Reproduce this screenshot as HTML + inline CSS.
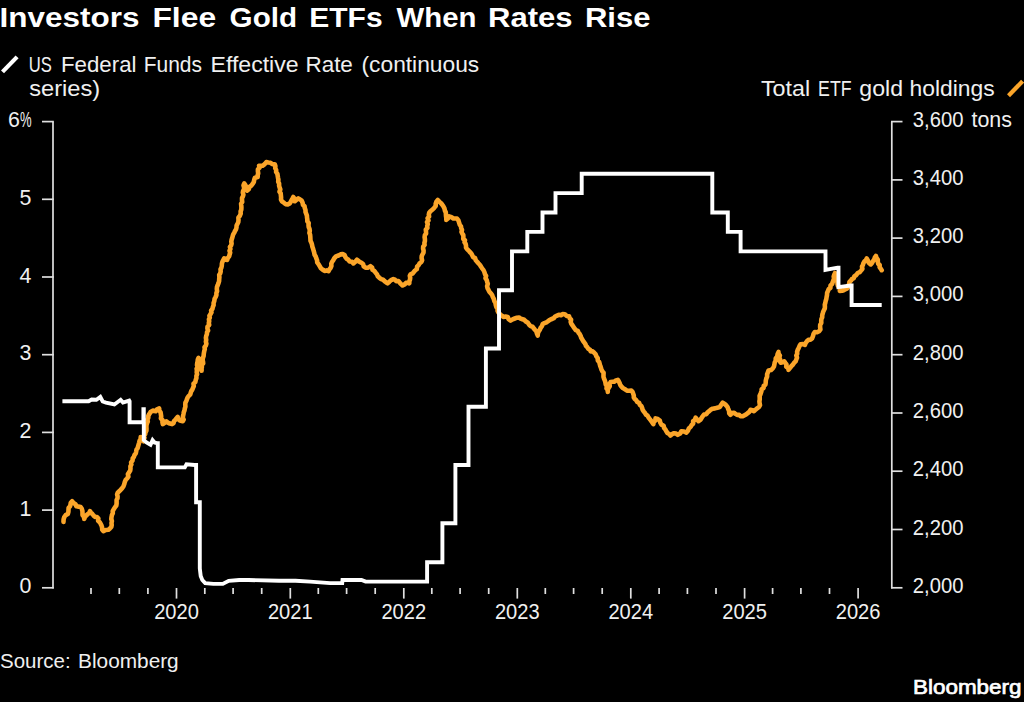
<!DOCTYPE html>
<html><head><meta charset="utf-8"><style>
html,body{margin:0;padding:0;background:#000;width:1024px;height:702px;overflow:hidden}
svg{position:absolute;left:0;top:0;display:block}
text{font-family:"Liberation Sans",sans-serif;fill:#f0f0f0}
</style></head><body>
<svg width="1024" height="702" viewBox="0 0 1024 702">
<text x="-0.4" y="27.3" style="font-weight:bold;font-size:28px;fill:#fff" textLength="139.8" lengthAdjust="spacingAndGlyphs">Investors</text>
<text x="152.4" y="27.3" style="font-weight:bold;font-size:28px;fill:#fff" textLength="63.7" lengthAdjust="spacingAndGlyphs">Flee</text>
<text x="229.6" y="27.3" style="font-weight:bold;font-size:28px;fill:#fff" textLength="67.5" lengthAdjust="spacingAndGlyphs">Gold</text>
<text x="309.2" y="27.3" style="font-weight:bold;font-size:28px;fill:#fff" textLength="73.4" lengthAdjust="spacingAndGlyphs">ETFs</text>
<text x="396.5" y="27.3" style="font-weight:bold;font-size:28px;fill:#fff" textLength="79.9" lengthAdjust="spacingAndGlyphs">When</text>
<text x="488.0" y="27.3" style="font-weight:bold;font-size:28px;fill:#fff" textLength="84.5" lengthAdjust="spacingAndGlyphs">Rates</text>
<text x="584.9" y="27.3" style="font-weight:bold;font-size:28px;fill:#fff" textLength="65.6" lengthAdjust="spacingAndGlyphs">Rise</text>
<line x1="2.5" y1="71.9" x2="17.1" y2="56.9" stroke="#fff" stroke-width="4.2"/>
<text x="28.7" y="71.5" style="font-size:21.6px" textLength="23.1" lengthAdjust="spacingAndGlyphs">US</text>
<text x="61.0" y="71.5" style="font-size:21.6px" textLength="75.5" lengthAdjust="spacingAndGlyphs">Federal</text>
<text x="143.7" y="71.5" style="font-size:21.6px" textLength="58.3" lengthAdjust="spacingAndGlyphs">Funds</text>
<text x="210.5" y="71.5" style="font-size:21.6px" textLength="88.1" lengthAdjust="spacingAndGlyphs">Effective</text>
<text x="305.4" y="71.5" style="font-size:21.6px" textLength="47.5" lengthAdjust="spacingAndGlyphs">Rate</text>
<text x="361.5" y="71.5" style="font-size:21.6px" textLength="117.7" lengthAdjust="spacingAndGlyphs">(continuous</text>
<text x="29.2" y="95.8" style="font-size:21.6px" textLength="71" lengthAdjust="spacingAndGlyphs">series)</text>
<text x="761.0" y="95.8" style="font-size:21.6px" textLength="49.1" lengthAdjust="spacingAndGlyphs">Total</text>
<text x="818.1" y="95.8" style="font-size:21.6px" textLength="33.5" lengthAdjust="spacingAndGlyphs">ETF</text>
<text x="859.3" y="95.8" style="font-size:21.6px" textLength="43.7" lengthAdjust="spacingAndGlyphs">gold</text>
<text x="909.5" y="95.8" style="font-size:21.6px" textLength="85.2" lengthAdjust="spacingAndGlyphs">holdings</text>
<line x1="1008.5" y1="95.8" x2="1022.6" y2="81.1" stroke="#fba52a" stroke-width="4.2"/>
<g stroke="#e0e0e0" stroke-width="1.7">
<line x1="53" y1="121.6" x2="53" y2="588.6"/>
<line x1="891.8" y1="121.6" x2="891.8" y2="588.6"/>
<line x1="42" y1="587.8" x2="53.8" y2="587.8"/>
<line x1="42" y1="510.1" x2="53.8" y2="510.1"/>
<line x1="42" y1="432.4" x2="53.8" y2="432.4"/>
<line x1="42" y1="354.7" x2="53.8" y2="354.7"/>
<line x1="42" y1="277.0" x2="53.8" y2="277.0"/>
<line x1="42" y1="199.3" x2="53.8" y2="199.3"/>
<line x1="42" y1="121.6" x2="53.8" y2="121.6"/>
<line x1="891" y1="587.8" x2="902.5" y2="587.8"/>
<line x1="891" y1="529.5" x2="902.5" y2="529.5"/>
<line x1="891" y1="471.2" x2="902.5" y2="471.2"/>
<line x1="891" y1="413.0" x2="902.5" y2="413.0"/>
<line x1="891" y1="354.7" x2="902.5" y2="354.7"/>
<line x1="891" y1="296.4" x2="902.5" y2="296.4"/>
<line x1="891" y1="238.1" x2="902.5" y2="238.1"/>
<line x1="891" y1="179.9" x2="902.5" y2="179.9"/>
<line x1="891" y1="121.6" x2="902.5" y2="121.6"/>
<line x1="91.0" y1="588" x2="91.0" y2="594"/>
<line x1="119.3" y1="588" x2="119.3" y2="594"/>
<line x1="147.9" y1="588" x2="147.9" y2="594"/>
<line x1="176.5" y1="588" x2="176.5" y2="598.6"/>
<line x1="204.8" y1="588" x2="204.8" y2="594"/>
<line x1="233.1" y1="588" x2="233.1" y2="594"/>
<line x1="261.7" y1="588" x2="261.7" y2="594"/>
<line x1="290.3" y1="588" x2="290.3" y2="598.6"/>
<line x1="318.3" y1="588" x2="318.3" y2="594"/>
<line x1="346.6" y1="588" x2="346.6" y2="594"/>
<line x1="375.2" y1="588" x2="375.2" y2="594"/>
<line x1="403.8" y1="588" x2="403.8" y2="598.6"/>
<line x1="431.8" y1="588" x2="431.8" y2="594"/>
<line x1="460.1" y1="588" x2="460.1" y2="594"/>
<line x1="488.7" y1="588" x2="488.7" y2="594"/>
<line x1="517.3" y1="588" x2="517.3" y2="598.6"/>
<line x1="545.3" y1="588" x2="545.3" y2="594"/>
<line x1="573.6" y1="588" x2="573.6" y2="594"/>
<line x1="602.2" y1="588" x2="602.2" y2="594"/>
<line x1="630.8" y1="588" x2="630.8" y2="598.6"/>
<line x1="659.1" y1="588" x2="659.1" y2="594"/>
<line x1="687.4" y1="588" x2="687.4" y2="594"/>
<line x1="716.0" y1="588" x2="716.0" y2="594"/>
<line x1="744.6" y1="588" x2="744.6" y2="598.6"/>
<line x1="772.6" y1="588" x2="772.6" y2="594"/>
<line x1="800.9" y1="588" x2="800.9" y2="594"/>
<line x1="829.5" y1="588" x2="829.5" y2="594"/>
<line x1="858.1" y1="588" x2="858.1" y2="598.6"/>
</g>
<g style="font-size:21.4px" text-anchor="end">
<text x="31.5" y="593.4">0</text>
<text x="31.5" y="515.7">1</text>
<text x="31.5" y="438.0">2</text>
<text x="31.5" y="360.3">3</text>
<text x="31.5" y="282.6">4</text>
<text x="31.5" y="204.9">5</text>
<text x="19.9" y="127.2">6</text><text x="31.6" y="127.2" textLength="11.6" lengthAdjust="spacingAndGlyphs">%</text>
</g>
<g style="font-size:21.4px">
<text x="912.8" y="592.8" textLength="50.6" lengthAdjust="spacingAndGlyphs">2,000</text>
<text x="912.8" y="534.5" textLength="50.6" lengthAdjust="spacingAndGlyphs">2,200</text>
<text x="912.8" y="476.2" textLength="50.6" lengthAdjust="spacingAndGlyphs">2,400</text>
<text x="912.8" y="418.0" textLength="50.6" lengthAdjust="spacingAndGlyphs">2,600</text>
<text x="912.8" y="359.7" textLength="50.6" lengthAdjust="spacingAndGlyphs">2,800</text>
<text x="912.8" y="301.4" textLength="50.6" lengthAdjust="spacingAndGlyphs">3,000</text>
<text x="912.8" y="243.1" textLength="50.6" lengthAdjust="spacingAndGlyphs">3,200</text>
<text x="912.8" y="184.9" textLength="50.6" lengthAdjust="spacingAndGlyphs">3,400</text>
<text x="912.8" y="126.6" textLength="50.6" lengthAdjust="spacingAndGlyphs">3,600</text>
<text x="971.5" y="126.6">tons</text>
</g>
<g style="font-size:21.4px" text-anchor="middle">
<text x="176.5" y="619.3" textLength="44.7" lengthAdjust="spacingAndGlyphs">2020</text>
<text x="290.3" y="619.3" textLength="44.7" lengthAdjust="spacingAndGlyphs">2021</text>
<text x="403.8" y="619.3" textLength="44.7" lengthAdjust="spacingAndGlyphs">2022</text>
<text x="517.3" y="619.3" textLength="44.7" lengthAdjust="spacingAndGlyphs">2023</text>
<text x="630.8" y="619.3" textLength="44.7" lengthAdjust="spacingAndGlyphs">2024</text>
<text x="744.6" y="619.3" textLength="44.7" lengthAdjust="spacingAndGlyphs">2025</text>
<text x="858.1" y="619.3" textLength="44.7" lengthAdjust="spacingAndGlyphs">2026</text>
</g>
<path d="M63.5,521.9 L63.6,519.4 L64.3,517.0 L65.7,515.1 L67.8,514.0 L68.4,511.9 L68.5,509.8 L68.6,507.8 L70.0,506.4 L70.5,504.6 L70.8,502.7 L72.1,501.3 L73.5,503.0 L75.5,504.2 L76.4,506.3 L78.5,506.6 L80.6,507.0 L81.8,508.8 L82.4,510.8 L82.5,513.0 L82.5,515.1 L84.1,516.8 L84.2,519.0 L84.9,517.0 L86.3,515.5 L87.6,514.2 L89.2,513.1 L89.9,511.2 L91.0,512.7 L92.4,514.0 L93.5,515.5 L95.0,516.9 L97.0,517.0 L98.4,518.5 L98.1,520.8 L99.7,522.2 L100.7,523.9 L101.5,525.6 L102.1,527.5 L102.2,529.6 L103.4,531.2 L105.8,530.0 L108.4,529.8 L109.9,528.5 L111.3,527.0 L111.7,525.0 L111.5,523.0 L111.9,521.1 L111.3,519.0 L111.5,517.1 L111.9,515.1 L112.8,513.2 L112.7,511.2 L113.8,509.2 L114.9,507.3 L116.3,505.5 L116.6,503.7 L116.6,501.8 L116.6,500.0 L117.5,498.2 L117.6,496.4 L117.1,494.5 L117.7,492.7 L119.2,491.3 L120.6,489.9 L122.0,488.4 L123.4,486.5 L124.2,484.3 L124.8,482.0 L125.6,480.1 L127.0,478.5 L128.4,476.7 L127.9,474.3 L129.0,472.5 L130.2,470.6 L130.5,468.5 L130.4,466.4 L131.4,464.5 L131.1,462.4 L132.5,460.6 L132.7,458.5 L133.9,456.9 L134.5,455.0 L135.8,453.4 L136.2,451.4 L136.5,449.6 L137.6,448.1 L138.1,446.3 L138.6,444.6 L139.1,442.8 L139.6,440.8 L140.7,439.1 L140.7,437.0 L141.5,439.5 L143.5,441.2 L143.8,439.4 L144.5,437.7 L143.9,435.7 L145.2,434.2 L145.5,432.4 L146.4,430.7 L146.5,428.9 L146.4,427.0 L146.5,425.1 L147.0,423.3 L147.8,421.6 L147.3,419.5 L148.3,417.8 L148.3,415.9 L149.2,414.2 L150.6,412.0 L152.8,410.6 L155.6,411.3 L157.0,409.4 L159.2,408.5 L159.3,410.5 L160.6,412.3 L160.9,414.3 L161.2,416.3 L160.9,418.4 L162.5,420.1 L162.4,422.1 L162.8,424.1 L164.6,422.8 L166.3,421.3 L167.9,422.7 L169.9,423.6 L172.0,424.1 L173.6,423.0 L174.0,421.1 L175.3,419.8 L176.4,418.3 L177.7,417.0 L178.3,419.1 L179.9,420.6 L182.7,421.3 L183.7,419.6 L182.8,417.6 L183.1,415.7 L183.5,413.9 L183.8,412.1 L184.5,410.3 L184.8,408.5 L185.4,406.6 L185.3,404.6 L185.4,402.6 L186.4,400.9 L187.0,399.0 L187.7,397.3 L188.8,395.9 L190.2,394.6 L190.7,392.8 L191.3,391.1 L192.3,389.6 L193.0,387.9 L193.8,386.0 L193.5,383.7 L195.3,382.1 L195.7,380.0 L196.4,378.1 L196.4,375.9 L197.1,374.2 L196.7,372.3 L196.9,370.5 L196.6,368.7 L197.7,367.0 L197.0,365.1 L197.2,363.3 L197.6,361.5 L197.8,359.7 L198.5,358.0 L199.3,359.9 L200.3,361.8 L200.2,364.0 L201.4,366.1 L201.6,368.4 L201.6,370.8 L201.3,368.9 L201.9,367.1 L201.6,365.2 L203.2,363.5 L203.0,361.6 L202.6,359.6 L203.0,357.8 L203.6,356.0 L203.8,353.7 L204.2,351.4 L204.8,349.2 L204.5,347.2 L205.9,345.5 L206.4,343.7 L205.9,341.7 L206.2,339.8 L205.9,337.9 L206.2,336.0 L206.9,334.2 L207.0,332.3 L208.1,330.6 L207.4,328.5 L207.5,326.6 L209.2,325.0 L208.8,323.0 L209.2,321.2 L208.9,319.3 L209.8,317.7 L209.4,315.7 L210.5,314.1 L211.5,312.4 L211.1,310.5 L212.4,309.0 L212.8,307.1 L213.6,305.2 L213.6,303.0 L214.3,301.0 L214.6,298.9 L215.6,297.0 L216.4,295.1 L216.4,293.0 L217.1,291.1 L216.8,289.0 L217.0,286.9 L217.8,285.0 L218.5,283.1 L219.1,281.1 L219.2,279.1 L219.4,277.1 L219.2,275.0 L220.2,273.3 L220.7,271.4 L220.5,269.3 L221.4,267.6 L221.8,265.7 L221.9,263.7 L222.4,261.9 L223.3,260.1 L224.2,258.4 L227.1,259.9 L227.8,257.9 L229.2,256.3 L229.6,254.5 L230.2,252.6 L229.5,250.7 L230.4,248.9 L229.9,247.0 L231.1,245.4 L231.6,243.6 L231.3,241.6 L231.6,239.8 L232.2,238.0 L232.7,236.2 L233.2,234.4 L234.2,232.8 L235.0,231.0 L236.0,229.3 L236.5,227.5 L236.6,225.5 L237.5,223.7 L238.3,222.0 L238.5,220.0 L238.4,217.7 L239.8,215.8 L240.7,213.7 L240.6,211.4 L241.3,209.6 L241.4,207.6 L241.3,205.7 L241.1,203.7 L242.2,202.0 L242.0,200.0 L242.0,198.1 L242.9,196.4 L243.4,194.6 L242.8,192.6 L243.1,190.8 L244.1,189.1 L244.0,187.2 L243.5,185.3 L244.2,183.5 L245.4,185.1 L246.1,186.9 L245.7,189.0 L247.0,190.6 L248.8,189.2 L249.5,186.9 L251.3,185.6 L252.6,183.9 L253.8,182.0 L254.2,179.8 L254.9,177.8 L257.7,177.1 L257.7,175.2 L258.2,173.3 L257.9,171.3 L257.9,169.4 L259.6,167.7 L259.1,165.7 L262.7,165.7 L264.7,164.1 L266.3,162.1 L268.4,162.5 L270.5,162.8 L272.4,164.1 L274.8,164.2 L275.4,166.1 L275.2,168.2 L276.2,170.0 L276.1,172.0 L277.4,173.8 L277.7,175.8 L278.0,177.7 L278.4,179.7 L278.2,181.7 L279.1,183.6 L279.1,185.6 L279.6,187.5 L280.3,189.4 L279.5,191.6 L280.7,193.4 L280.9,195.4 L281.1,197.4 L281.0,199.4 L281.9,201.3 L283.8,202.6 L285.5,204.1 L287.8,204.4 L289.8,203.4 L290.7,201.8 L291.6,200.2 L292.5,198.6 L293.3,197.0 L294.7,198.9 L294.8,201.3 L296.5,199.8 L298.3,198.4 L300.1,199.5 L301.7,200.7 L302.6,202.7 L302.9,204.7 L304.5,206.2 L304.8,208.2 L305.5,210.0 L305.5,211.9 L306.2,213.8 L306.9,215.6 L307.0,217.5 L307.3,219.4 L307.3,221.3 L308.7,223.0 L308.5,225.0 L308.7,227.0 L309.5,228.9 L309.8,230.8 L309.4,232.9 L310.1,234.8 L310.3,236.8 L310.4,238.8 L310.5,240.8 L311.4,242.7 L312.0,244.7 L312.4,246.7 L313.1,248.7 L313.6,250.7 L314.2,252.7 L314.6,254.7 L315.7,256.5 L316.3,258.4 L317.1,260.3 L317.2,262.4 L318.5,264.1 L319.7,266.2 L320.9,268.2 L322.8,269.8 L324.5,270.9 L326.7,270.4 L328.5,271.2 L329.4,269.4 L330.7,267.8 L331.4,265.9 L331.3,263.7 L332.1,261.8 L333.3,260.2 L334.2,258.4 L336.0,256.4 L338.5,255.5 L340.5,254.4 L342.7,254.1 L344.6,255.1 L345.4,257.1 L346.7,258.7 L348.4,259.8 L349.7,261.5 L352.0,261.8 L353.4,263.4 L355.4,261.8 L357.0,259.8 L359.0,261.4 L361.3,262.7 L363.1,264.0 L363.7,266.4 L365.5,267.7 L368.2,267.6 L370.5,266.2 L372.1,267.5 L372.5,269.8 L374.4,270.9 L375.5,272.6 L376.9,274.2 L377.8,276.3 L379.4,277.8 L381.2,279.1 L383.1,279.7 L384.5,281.1 L386.0,282.3 L387.6,283.3 L389.4,281.7 L391.1,280.1 L393.3,279.1 L395.0,279.7 L396.3,281.1 L398.4,281.1 L399.7,282.6 L401.1,284.1 L402.6,285.5 L404.5,284.5 L406.1,282.9 L408.3,282.6 L409.3,283.3 L409.3,281.4 L410.0,279.6 L410.2,277.8 L409.8,275.8 L410.7,274.1 L412.6,273.5 L413.8,272.0 L415.0,270.5 L416.8,269.2 L417.1,266.7 L418.6,265.2 L419.6,263.3 L421.4,262.0 L422.1,260.2 L421.6,258.1 L421.7,256.2 L422.5,254.3 L423.5,252.6 L423.6,250.6 L423.1,248.6 L423.2,246.7 L424.6,244.9 L424.4,242.9 L424.9,241.1 L424.9,239.1 L424.6,237.1 L424.9,235.2 L426.1,233.5 L426.0,231.6 L425.8,229.6 L427.4,227.9 L427.2,226.0 L427.8,224.1 L427.0,222.1 L428.5,220.4 L427.6,218.3 L429.1,216.6 L428.8,214.7 L429.2,212.8 L430.7,211.0 L432.6,209.5 L434.2,207.8 L435.7,206.1 L435.7,203.8 L436.4,201.7 L437.8,200.0 L439.5,201.8 L441.3,203.5 L442.5,205.1 L443.6,206.8 L444.5,208.6 L444.9,210.6 L445.8,212.4 L445.9,214.3 L446.0,216.1 L446.3,218.0 L446.3,219.9 L448.1,218.3 L449.2,216.3 L451.4,217.1 L453.4,218.5 L455.2,218.5 L457.0,218.5 L458.4,220.4 L459.1,222.7 L459.8,224.9 L461.0,226.4 L461.2,228.3 L462.0,229.9 L461.5,231.9 L462.3,233.6 L463.3,235.1 L463.4,237.0 L463.3,238.9 L465.0,240.3 L464.5,242.3 L465.6,243.9 L466.0,245.6 L466.0,247.5 L467.0,249.1 L468.5,250.4 L469.8,252.0 L471.2,253.4 L472.2,255.2 L473.1,257.1 L475.1,258.1 L475.7,260.2 L477.1,261.7 L478.4,263.3 L479.8,264.8 L481.0,266.6 L482.1,268.4 L483.5,270.1 L484.4,272.1 L485.0,274.2 L486.1,276.0 L485.5,278.2 L486.7,280.0 L487.2,281.9 L487.8,283.9 L487.1,286.1 L487.5,288.1 L488.5,289.9 L489.4,291.8 L490.9,293.3 L492.1,295.0 L492.8,297.0 L493.8,298.9 L494.3,301.0 L495.4,302.8 L495.8,305.0 L496.4,307.0 L497.6,308.6 L497.6,310.9 L498.5,312.6 L500.0,314.1 L501.7,315.6 L503.5,317.0 L505.6,316.6 L507.8,317.0 L508.6,319.2 L510.6,320.6 L512.6,319.4 L514.8,318.5 L517.0,317.7 L519.0,317.5 L520.6,318.6 L522.4,319.2 L524.2,319.8 L525.9,321.5 L527.9,322.8 L529.2,324.8 L530.6,326.1 L532.5,326.7 L533.7,328.3 L534.9,329.8 L536.4,331.4 L536.9,333.5 L537.7,335.5 L537.9,333.3 L538.7,331.4 L539.9,329.7 L540.7,327.7 L542.0,326.1 L542.7,324.1 L544.5,323.1 L546.4,322.3 L548.1,321.1 L549.8,319.8 L551.8,319.0 L553.7,318.2 L555.1,316.5 L557.0,315.6 L558.8,314.8 L560.9,315.3 L562.6,314.1 L564.9,314.3 L566.8,315.9 L569.1,316.3 L569.6,318.2 L571.1,319.7 L570.7,322.0 L571.4,323.9 L572.6,325.5 L573.6,327.1 L574.7,328.6 L575.8,330.1 L577.8,330.9 L578.5,332.7 L579.7,334.1 L580.6,335.8 L581.2,337.7 L582.2,339.3 L583.1,341.0 L584.3,342.5 L585.4,344.1 L586.0,345.9 L587.3,347.2 L588.3,348.7 L590.0,349.7 L590.7,351.4 L592.7,351.4 L594.2,352.8 L595.7,354.4 L596.4,356.4 L597.7,358.1 L597.8,360.5 L599.2,362.1 L599.7,364.0 L600.2,365.8 L600.9,367.6 L601.4,369.5 L602.3,371.2 L603.6,372.8 L603.5,374.9 L603.5,376.9 L604.1,378.8 L604.9,380.6 L605.4,382.5 L605.7,384.5 L607.0,386.1 L606.5,388.3 L607.7,390.0 L607.8,392.0 L607.7,389.8 L608.6,387.9 L609.8,386.1 L609.6,383.9 L610.6,382.0 L612.5,381.8 L614.4,381.6 L616.0,380.4 L617.8,379.9 L618.8,381.4 L619.6,383.1 L620.2,384.8 L621.3,386.3 L623.0,388.1 L625.0,389.3 L627.0,390.6 L629.1,390.8 L631.3,390.6 L632.6,392.1 L633.2,393.8 L633.8,395.6 L633.8,397.5 L634.9,399.1 L636.3,400.3 L637.3,402.0 L639.1,402.9 L639.8,404.8 L641.4,406.0 L642.1,407.8 L642.6,409.7 L643.6,411.3 L644.8,412.7 L645.8,414.5 L647.5,415.7 L648.5,417.5 L649.8,419.1 L651.0,420.7 L652.2,422.4 L653.4,424.1 L653.6,422.0 L655.4,420.5 L655.5,418.4 L657.8,419.0 L659.8,420.5 L660.3,422.7 L661.4,424.6 L663.7,425.8 L664.1,428.0 L665.4,429.5 L666.3,431.3 L667.4,433.0 L669.3,434.0 L670.5,435.5 L672.1,434.1 L674.0,433.2 L676.1,433.6 L677.8,434.8 L680.1,433.5 L681.4,431.2 L684.0,431.5 L686.4,432.6 L687.9,430.8 L688.8,428.5 L690.6,426.9 L691.6,425.1 L693.2,423.5 L693.1,421.1 L695.0,419.8 L695.6,417.7 L697.0,419.5 L698.5,421.2 L700.3,419.9 L701.5,418.1 L702.7,416.2 L704.1,414.6 L706.3,414.2 L707.6,412.4 L709.2,411.2 L710.8,409.6 L712.7,408.7 L714.9,408.4 L717.3,407.7 L719.8,407.0 L721.2,404.8 L722.7,402.7 L724.7,403.9 L726.3,405.5 L727.6,407.1 L728.2,409.1 L729.1,411.0 L729.2,413.2 L730.5,414.8 L731.9,413.1 L734.1,412.7 L735.5,413.9 L737.1,414.9 L739.2,414.8 L740.5,416.2 L743.2,416.1 L745.5,414.8 L747.4,413.4 L749.3,411.9 L750.5,409.8 L752.4,410.2 L754.0,411.2 L755.5,409.7 L757.2,408.3 L759.0,407.0 L760.0,405.2 L759.6,403.3 L759.4,401.4 L759.7,399.6 L759.7,397.7 L759.6,395.9 L760.5,394.1 L761.4,391.2 L761.7,389.2 L763.6,388.0 L763.7,385.9 L765.4,384.6 L765.7,382.6 L765.8,380.5 L766.3,378.5 L767.1,376.6 L767.1,374.4 L767.8,372.5 L768.5,370.5 L771.0,370.1 L772.8,368.4 L773.9,366.6 L774.4,364.5 L774.7,362.5 L775.7,360.6 L775.7,358.4 L777.2,356.5 L777.6,354.2 L778.5,352.0 L778.5,353.8 L779.9,355.4 L779.2,357.4 L780.0,359.1 L779.9,361.0 L780.6,362.7 L782.5,362.2 L784.2,361.3 L785.3,362.9 L786.5,364.4 L786.2,366.7 L788.1,367.8 L788.5,369.8 L789.9,368.1 L791.2,366.3 L792.8,364.8 L794.0,362.9 L795.6,361.3 L796.3,359.5 L797.0,357.6 L796.3,355.5 L797.2,353.7 L797.1,351.7 L797.7,349.9 L798.7,348.0 L799.5,346.0 L800.6,344.2 L802.8,344.1 L804.9,344.9 L805.7,342.9 L806.9,341.3 L808.4,339.9 L810.4,339.8 L812.0,338.5 L812.9,336.4 L813.5,334.1 L814.8,332.1 L817.1,332.3 L819.1,331.3 L820.4,329.4 L820.1,327.0 L820.2,324.8 L821.3,322.8 L821.2,320.9 L821.4,319.1 L822.2,317.3 L822.2,315.4 L822.7,313.7 L823.1,311.9 L823.9,310.2 L824.8,308.4 L824.9,306.6 L824.8,304.7 L825.3,302.9 L825.7,300.9 L826.3,299.0 L826.6,297.0 L827.0,295.0 L827.1,293.0 L827.9,291.1 L828.7,289.2 L830.4,287.9 L830.5,285.5 L832.1,284.1 L832.6,282.3 L833.3,280.5 L834.1,278.7 L833.7,276.6 L834.3,274.8 L835.1,273.0 L835.9,274.7 L836.2,276.6 L836.6,278.4 L836.4,280.4 L837.5,282.0 L837.5,283.9 L837.9,285.7 L839.6,287.2 L840.0,288.9 L839.8,290.9 L842.0,290.8 L844.1,290.0 L846.6,288.8 L848.0,287.4 L848.3,285.5 L849.3,283.9 L849.4,281.9 L850.9,280.6 L851.9,279.1 L853.7,278.2 L854.3,276.4 L856.3,275.0 L857.7,273.0 L859.8,272.1 L861.2,270.4 L862.4,268.8 L862.0,266.7 L862.9,265.0 L863.4,263.1 L864.4,261.5 L865.9,260.1 L866.8,258.5 L867.9,260.6 L868.8,262.8 L870.7,264.4 L872.0,262.9 L873.0,261.1 L874.2,259.5 L874.8,257.6 L875.9,255.9 L876.5,257.9 L877.8,259.6 L877.8,261.8 L878.2,263.7 L879.7,265.0 L879.6,267.1 L880.7,268.6 L881.7,270.2" fill="none" stroke="#fba52a" stroke-width="4.6" stroke-linejoin="round" stroke-linecap="round"/>
<path d="M62.4,401.3 L88.6,401.3 L91.7,399.5 L96.4,399.8 L100.3,397.0 L102.7,401.5 L106.0,402.6 L114.4,404.5 L120.6,399.8 L123.0,402.6 L129.2,400.6 L129.6,401.3 L129.6,422.3 L143.4,422.3 L143.4,409.1 L143.8,409.1 L143.8,440.2 L146.5,442.5 L150.5,444.8 L152.6,440.2 L154.5,442.5 L157.4,443.3 L157.8,443.3 L157.8,467.4 L184.8,467.4 L186.5,464.3 L194.8,465.0 L196.1,465.0 L196.1,502.3 L199.8,502.3 L199.8,568.4 L200.7,576.1 L202.3,580.0 L205.2,583.1 L213.4,583.9 L222.8,583.9 L228.7,580.8 L239.2,580.0 L248.6,580.0 L279.1,580.8 L295.5,580.8 L310.0,581.6 L330.1,583.1 L342.2,583.1 L342.5,580.0 L361.5,580.0 L365.6,581.6 L427.1,581.6 L427.1,562.2 L442.4,562.2 L442.4,523.3 L455.4,523.3 L455.4,465.0 L468.5,465.0 L468.5,406.8 L485.9,406.8 L485.9,348.5 L499.0,348.5 L499.0,290.2 L512.0,290.2 L512.0,251.4 L527.3,251.4 L527.3,231.9 L542.5,231.9 L542.5,212.5 L555.5,212.5 L555.5,193.1 L581.7,193.1 L581.7,173.7 L712.3,173.7 L712.3,212.5 L727.8,212.5 L727.8,231.9 L740.6,231.9 L740.6,251.4 L825.5,251.4 L825.5,270.0 L837.6,267.7 L838.5,267.7 L838.5,287.1 L850.6,285.5 L851.6,285.5 L851.6,305.0 L881.7,305.0" fill="none" stroke="#fff" stroke-width="3.9" stroke-linejoin="miter" stroke-miterlimit="10" stroke-linecap="butt"/>
<text x="0.0" y="667.9" style="font-size:20.4px" textLength="70.6" lengthAdjust="spacingAndGlyphs">Source:</text>
<text x="78.1" y="667.9" style="font-size:20.4px" textLength="100.6" lengthAdjust="spacingAndGlyphs">Bloomberg</text>
<text x="913" y="693.9" style="font-size:20.7px;fill:#fff;stroke:#fff;stroke-width:0.7px" textLength="108.5" lengthAdjust="spacingAndGlyphs">Bloomberg</text>
</svg>
</body></html>
